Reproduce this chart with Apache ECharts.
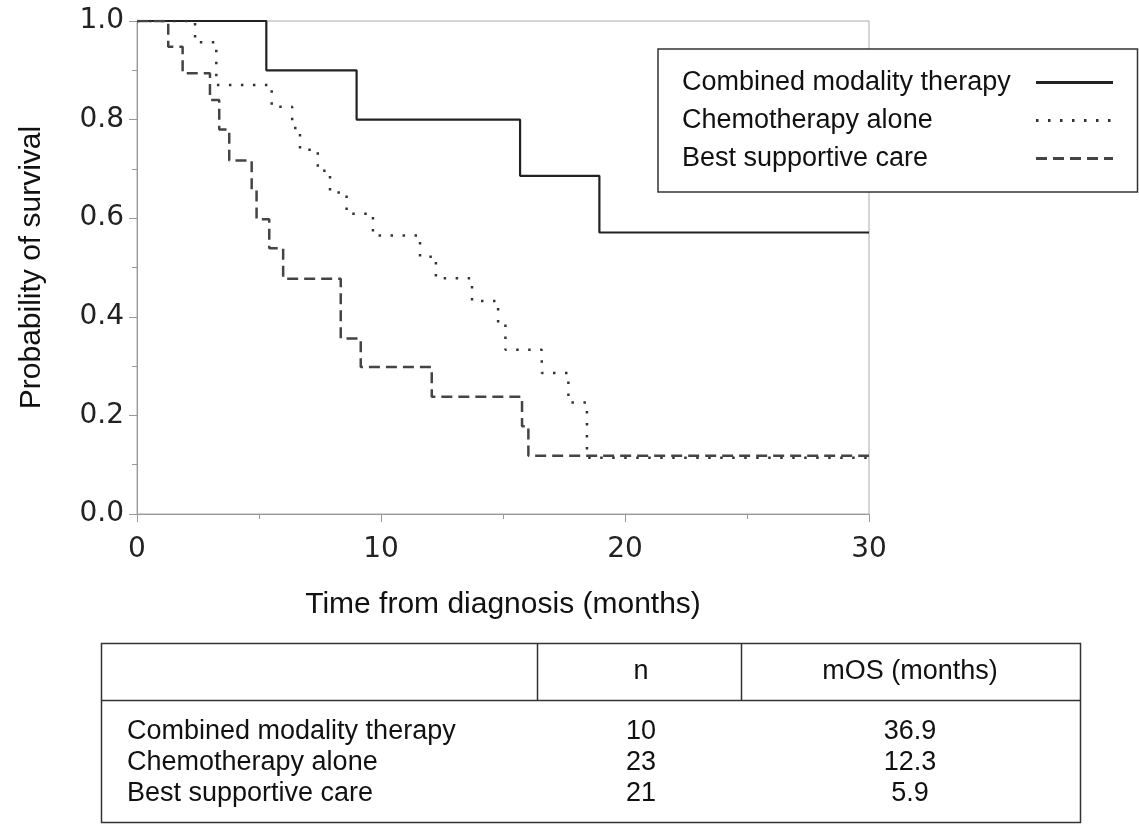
<!DOCTYPE html>
<html><head><meta charset="utf-8">
<script src="https://cdn.jsdelivr.net/npm/echarts@6/dist/echarts.min.js"></script>
<style>html,body{margin:0;padding:0;background:#fff}#c{width:1139px;height:825px}</style>
</head><body><div id="c"></div>
<script>
// ---- data ----
const seriesNames = ['Combined modality therapy', 'Chemotherapy alone', 'Best supportive care'];
const cmtTime  = [0, 5.3, 9.0, 15.7, 18.95, 30];
const cmtSurv  = [1.0, 0.9, 0.8, 0.686, 0.571, 0.571];
const chemoTime = [0, 2.38, 3.25, 5.52, 6.36, 6.68, 7.41, 7.91, 8.59, 9.67, 11.6, 12.25, 13.73, 14.8, 15.1, 16.59, 17.68, 18.44, 30];
const chemoSurv = [1.0, 0.957, 0.870, 0.826, 0.783, 0.739, 0.696, 0.652, 0.609, 0.565, 0.522, 0.478, 0.432, 0.385, 0.333, 0.286, 0.226, 0.114, 0.114];
const bscTime = [0, 1.28, 1.87, 2.99, 3.37, 3.78, 4.70, 4.90, 5.42, 5.99, 8.35, 9.17, 12.08, 15.78, 16.04, 30];
const bscSurv = [1.0, 0.948, 0.894, 0.840, 0.780, 0.717, 0.657, 0.598, 0.539, 0.477, 0.356, 0.298, 0.238, 0.178, 0.118, 0.118];
const xAxisTitle = 'Time from diagnosis (months)';
const yAxisTitle = 'Probability of survival';
const tableHeader = ['', 'n', 'mOS (months)'];
const tableN = ['10', '23', '21'];
const tableMOS = ['36.9', '12.3', '5.9'];

const zip = (t, s) => t.map((v, i) => [v, s[i]]);

const chart = echarts.init(document.getElementById('c'), null, {renderer: 'canvas'});
const axisColor = '#999';
const txtFont = '"Liberation Sans", Arial, sans-serif';

// table graphic built from arrays
const tblLeft = 101.5, tblRight = 1080.5, tblTop = 643.5, tblHead = 700.5, tblBottom = 822.5;
const colSep = [537.5, 741.5];
const colCenters = [null, 641, 910];
const rowY = [731.7, 762.7, 794];
const line = (x1, y1, x2, y2) => ({type: 'line', silent: true, shape: {x1, y1, x2, y2}, style: {stroke: '#333', lineWidth: 1.5}});
const txt = (text, x, y, align) => ({type: 'text', silent: true, style: {text, x, y, align, verticalAlign: 'middle', font: '27px ' + txtFont, fill: '#111'}});
const graphic = [
  {type: 'rect', silent: true, shape: {x: tblLeft, y: tblTop, width: tblRight - tblLeft, height: tblBottom - tblTop}, style: {fill: 'transparent', stroke: '#333', lineWidth: 1.5}},
  line(tblLeft, tblHead, tblRight, tblHead),
  line(colSep[0], tblTop, colSep[0], tblHead),
  line(colSep[1], tblTop, colSep[1], tblHead),
  txt(tableHeader[1], colCenters[1], 672, 'center'),
  txt(tableHeader[2], colCenters[2], 672, 'center')
];
seriesNames.forEach((n, i) => {
  graphic.push(txt(n, 127, rowY[i], 'left'));
  graphic.push(txt(tableN[i], colCenters[1], rowY[i], 'center'));
  graphic.push(txt(tableMOS[i], colCenters[2], rowY[i], 'center'));
});

const mk = (name, data, color, type, width) => ({
  name, type: 'line', step: 'end', data, symbol: 'none', silent: true,
  lineStyle: {color, width, type, cap: 'butt'}, itemStyle: {color}
});

chart.setOption({
  animation: false,
  backgroundColor: '#fff',
  grid: {left: 137, top: 21, width: 732, height: 493, show: true, borderColor: '#aaa', borderWidth: 1, backgroundColor: 'transparent'},
  xAxis: {
    type: 'value', min: 0, max: 30, interval: 10,
    axisLine: {lineStyle: {color: axisColor, width: 1}},
    axisTick: {show: true, length: 8, lineStyle: {color: axisColor}},
    minorTick: {show: true, splitNumber: 2, length: 5, lineStyle: {color: axisColor}},
    splitLine: {show: false},
    axisLabel: {fontFamily: '"DejaVu Sans", Verdana, sans-serif', fontSize: 28, color: '#222', margin: 22},
    name: xAxisTitle, nameLocation: 'middle', nameGap: 76,
    nameTextStyle: {fontFamily: txtFont, fontSize: 30, color: '#111'}
  },
  yAxis: {
    type: 'value', min: 0, max: 1, interval: 0.2,
    axisLine: {show: true, lineStyle: {color: axisColor, width: 1}},
    axisTick: {show: true, length: 8, lineStyle: {color: axisColor}},
    minorTick: {show: true, splitNumber: 2, length: 5, lineStyle: {color: axisColor}},
    splitLine: {show: false},
    axisLabel: {fontFamily: '"DejaVu Sans", Verdana, sans-serif', fontSize: 28, color: '#222', margin: 13, formatter: v => v.toFixed(1)},
    name: yAxisTitle, nameLocation: 'middle', nameGap: 90, nameRotate: 90,
    nameTextStyle: {fontFamily: txtFont, fontSize: 30, color: '#111'}
  },
  legend: {
    orient: 'vertical', left: 658, top: 49, align: 'right',
    padding: [20, 23, 20, 24], itemGap: 11, itemWidth: 77, itemHeight: 14,
    borderColor: '#333', borderWidth: 1.5, backgroundColor: '#fff', selectedMode: false,
    itemStyle: {opacity: 0},
    lineStyle: {width: 3},
    data: seriesNames,
    formatter: n => '{t|' + n + '}',
    textStyle: {fontSize: 27, fontFamily: txtFont, color: '#111',
      rich: {t: {width: 349, align: 'left', fontSize: 27, fontFamily: txtFont, color: '#111', lineHeight: 30}}}
  },
  series: [
    mk(seriesNames[0], zip(cmtTime, cmtSurv), '#222', 'solid', 2.2),
    mk(seriesNames[1], zip(chemoTime, chemoSurv), '#333', [2.5, 9.5], 2.5),
    mk(seriesNames[2], zip(bscTime, bscSurv), '#444', [11, 6], 2.5)
  ],
  graphic
});
</script></body></html>
